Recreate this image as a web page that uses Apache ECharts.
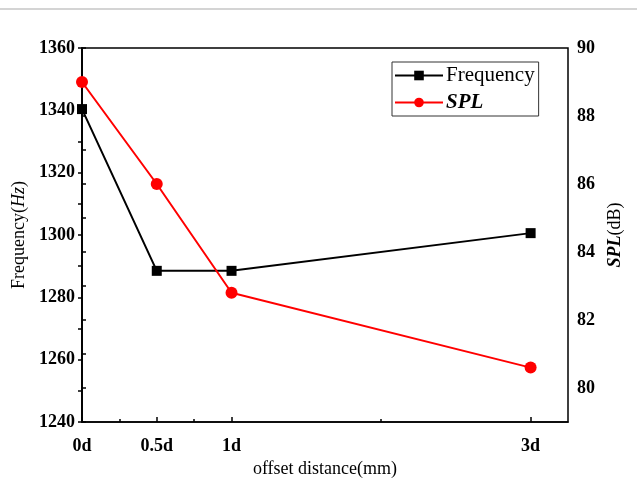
<!DOCTYPE html>
<html>
<head>
<meta charset="utf-8">
<script src="https://cdn.jsdelivr.net/npm/echarts@6/dist/echarts.min.js"></script>
<style>
  html, body { margin: 0; padding: 0; background: #fff; }
  #chart { width: 637px; height: 497px; }
</style>
</head>
<body>
<div id="chart"></div>
<script>
var offsets = [0, 0.5, 1, 3];
var offsetLabels = ["0d", "0.5d", "1d", "3d"];
var frequency = [1340.4, 1288.5, 1288.5, 1300.6];
var spl = [89.0, 86.0, 82.8, 80.6];
var freqTicks = [1240, 1250, 1260, 1270, 1280, 1290, 1300, 1310, 1320, 1330, 1340, 1350, 1360];
var splMajor = [80, 82, 84, 86, 88, 90];
var splTicks = [79, 80, 81, 82, 83, 84, 85, 86, 87, 88, 89, 90];
var xMinor = [0.25, 0.75, 2];

var serif = "'Liberation Serif', 'Times New Roman', serif";

function pairs(xs, ys) {
    var out = [];
    for (var i = 0; i < xs.length; i++) out.push([xs[i], ys[i]]);
    return out;
}

var option = {
    animation: false,
    backgroundColor: "#fff",
    textStyle: { fontFamily: serif },
    graphic: [{
        type: "rect",
        shape: { x: 0, y: 8, width: 637, height: 2 },
        style: { fill: "#d4d4d4" },
        silent: true
    }],
    grid: {
        left: 82, right: 69, top: 48, bottom: 75,
        outerBoundsMode: "none",
        containLabel: false,
        show: true, borderColor: "#000", borderWidth: 1.5,
        backgroundColor: "transparent"
    },
    legend: {
        orient: "vertical",
        left: 392, top: 62,
        width: 148,
        itemWidth: 48, itemHeight: 12, itemGap: 6,
        padding: [3, 4, 3, 2],
        borderColor: "#333", borderWidth: 1,
        backgroundColor: "#fff",
        data: [
            { name: "Frequency", textStyle: { fontStyle: "normal", fontWeight: "normal" } },
            { name: "SPL", textStyle: { fontStyle: "italic", fontWeight: "bold" } }
        ],
        textStyle: { fontFamily: serif, fontSize: 21, color: "#000", padding: [0, 0, 0, -2] }
    },
    xAxis: [{
        type: "value",
        min: 0, max: 3.25,
        name: "offset distance(mm)",
        nameLocation: "middle",
        nameGap: 33,
        nameTextStyle: { fontFamily: serif, fontSize: 18, color: "#000" },
        axisLine: { show: true, lineStyle: { color: "#000", width: 1.5 } },
        axisTick: { show: true, inside: true, length: 5, customValues: offsets, lineStyle: { color: "#000", width: 1.5 } },
        axisLabel: {
            customValues: offsets,
            fontFamily: serif, fontSize: 18, fontWeight: "bold", color: "#000", margin: 15,
            formatter: function (v) {
                var i = offsets.indexOf(v);
                return i >= 0 ? offsetLabels[i] : "";
            }
        },
        splitLine: { show: false }
    }, {
        type: "value",
        min: 0, max: 3.25,
        position: "bottom",
        axisLine: { show: false },
        axisTick: { show: true, inside: true, length: 3, customValues: xMinor, lineStyle: { color: "#000", width: 1.5 } },
        axisLabel: { show: false, customValues: xMinor },
        splitLine: { show: false }
    }],
    yAxis: [{
        type: "value",
        min: 1240, max: 1360, interval: 20,
        position: "left",
        name: "{a|Frequency(}{b|Hz}{a|)}",
        nameLocation: "middle",
        nameGap: 50,
        nameTextStyle: {
            rich: {
                a: { fontFamily: serif, fontSize: 18, color: "#000" },
                b: { fontFamily: serif, fontSize: 18, fontStyle: "italic", color: "#000" }
            }
        },
        axisLine: { show: true, lineStyle: { color: "#000", width: 1.5 } },
        axisTick: { show: true, length: 4, customValues: freqTicks, lineStyle: { color: "#000", width: 1.5 } },
        axisLabel: {
            fontFamily: serif, fontSize: 18, fontWeight: "bold", color: "#000", margin: 7,
            formatter: function (v) { return String(v); }
        },
        splitLine: { show: false }
    }, {
        type: "value",
        min: 79, max: 90,
        position: "right",
        name: "{b|SPL}{a|(dB)}",
        nameLocation: "middle",
        nameRotate: 90,
        nameGap: 37,
        nameTextStyle: {
            rich: {
                a: { fontFamily: serif, fontSize: 18, color: "#000" },
                b: { fontFamily: serif, fontSize: 18, fontStyle: "italic", fontWeight: "bold", color: "#000" }
            }
        },
        axisLine: { show: true, lineStyle: { color: "#000", width: 1.5 } },
        axisTick: { show: true, length: 4, customValues: splTicks, lineStyle: { color: "#000", width: 1.5 } },
        axisLabel: { customValues: splMajor, fontFamily: serif, fontSize: 18, fontWeight: "bold", color: "#000", margin: 9 },
        splitLine: { show: false }
    }],
    series: [{
        name: "Frequency",
        type: "line",
        xAxisIndex: 0, yAxisIndex: 0,
        data: pairs(offsets, frequency),
        symbol: "rect", symbolSize: 10,
        lineStyle: { color: "#000", width: 2 },
        itemStyle: { color: "#000" },
        z: 3
    }, {
        name: "SPL",
        type: "line",
        xAxisIndex: 0, yAxisIndex: 1,
        data: pairs(offsets, spl),
        symbol: "circle", symbolSize: 12,
        lineStyle: { color: "#f00", width: 2 },
        itemStyle: { color: "#f00" },
        z: 4
    }]
};

var myChart = echarts.init(document.getElementById("chart"));
myChart.setOption(option);
</script>
</body>
</html>
